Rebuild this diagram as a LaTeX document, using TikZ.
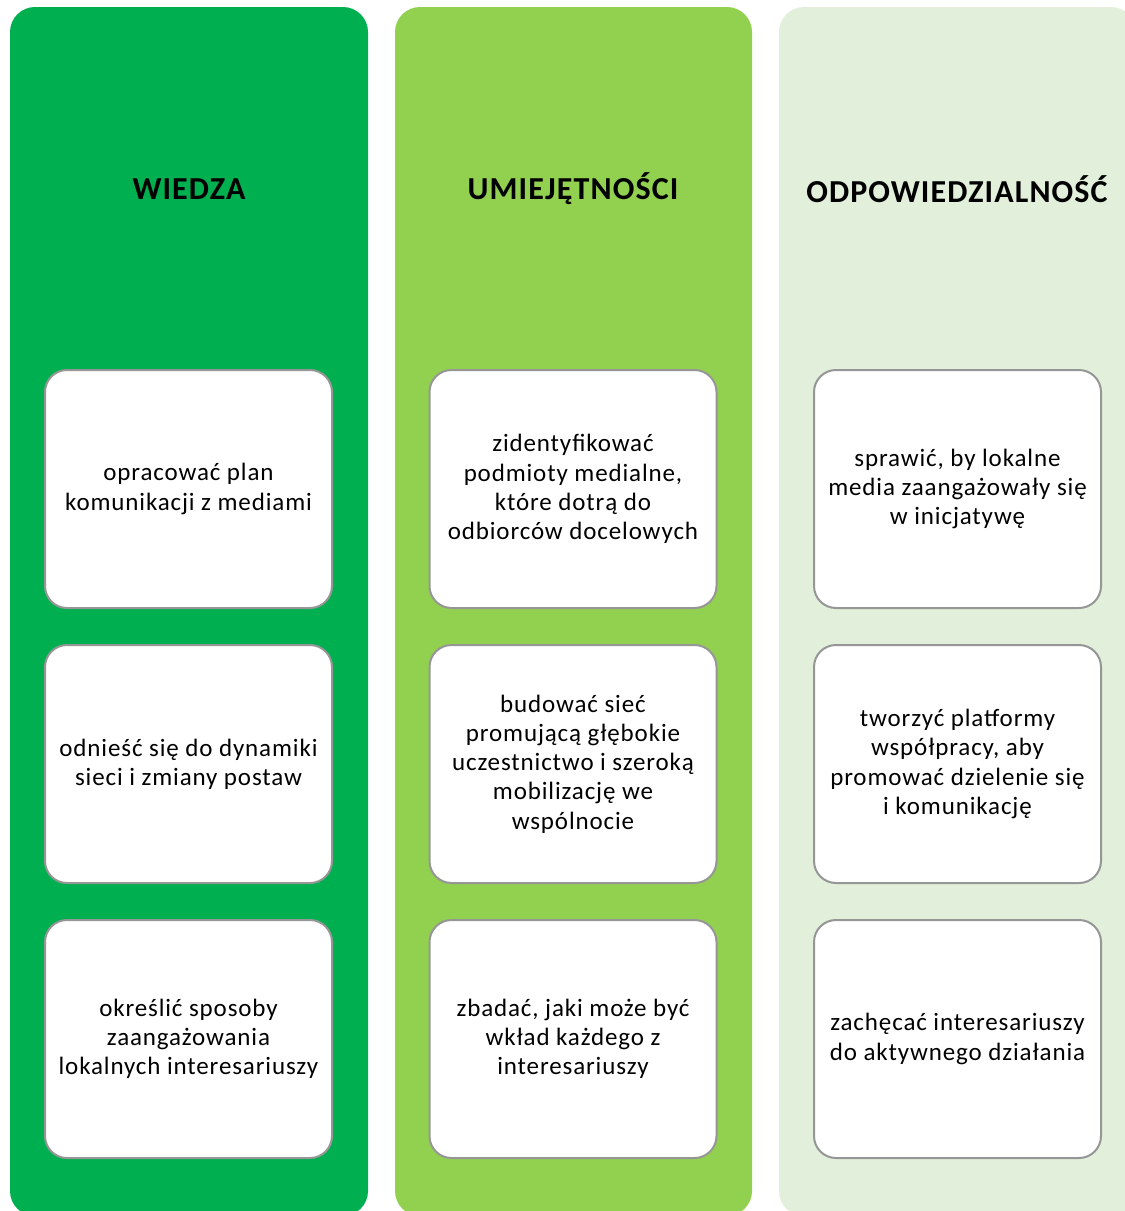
\documentclass[tikz,border=0pt]{standalone}
\usepackage{fontspec}
\setmainfont{Carlito}[LetterSpace=3.5]
\definecolor{darkgreen}{RGB}{0,176,80}
\definecolor{midgreen}{RGB}{146,208,80}
\definecolor{palegreen}{RGB}{226,239,218}
\definecolor{boxgray}{RGB}{150,150,150}
\tikzset{
    column/.style={rounded corners=25pt},
    heading/.style={font=\fontsize{32}{38}\selectfont\bfseries, align=center},
    goal/.style={draw=boxgray, line width=2pt, fill=white, rounded corners=22pt,
        minimum width=287pt, minimum height=238pt, align=center,
        font=\fontsize{25}{29.2}\selectfont}
}
\begin{document}
\begin{tikzpicture}[x=1pt, y=-1pt]
        \useasboundingbox (0,0) rectangle (1125,1211);
        \clip (0,0) rectangle (1125,1211);
        %three coloured columns
        \fill[darkgreen, column] (10,7) rectangle (368,1216);
        \fill[midgreen, column] (395,7) rectangle (752,1216);
        \fill[palegreen, column] (779,7) rectangle (1136,1216);
        %column headings
        \node[heading] (wiedza) at (189,189) {WIEDZA};
        \node[heading] (umiej) at (573,189) {UMIEJĘTNOŚCI};
        \node[heading] (odpow) at (957,189) {ODPOWIEDZIALNOŚĆ};
        %knowledge
        \node[goal] (w1) at (188.5,489) {opracować plan\\komunikacji z mediami};
        \node[goal] (w2) at (188.5,764) {odnieść się do dynamiki\\sieci i zmiany postaw};
        \node[goal] (w3) at (188.5,1039) {określić sposoby\\zaangażowania\\lokalnych interesariuszy};
        %skills
        \node[goal] (u1) at (573,489) {zidentyfikować\\podmioty medialne,\\które dotrą do\\odbiorców docelowych};
        \node[goal] (u2) at (573,764) {budować sieć\\promującą głębokie\\uczestnictwo i szeroką\\mobilizację we\\wspólnocie};
        \node[goal] (u3) at (573,1039) {zbadać, jaki może być\\wkład każdego z\\interesariuszy};
        %responsibility
        \node[goal] (o1) at (957.5,489) {sprawić, by lokalne\\media zaangażowały się\\w inicjatywę};
        \node[goal] (o2) at (957.5,764) {tworzyć platformy\\współpracy, aby\\promować dzielenie się\\i komunikację};
        \node[goal] (o3) at (957.5,1039) {zachęcać interesariuszy\\do aktywnego działania};
    \end{tikzpicture}
\end{document}
